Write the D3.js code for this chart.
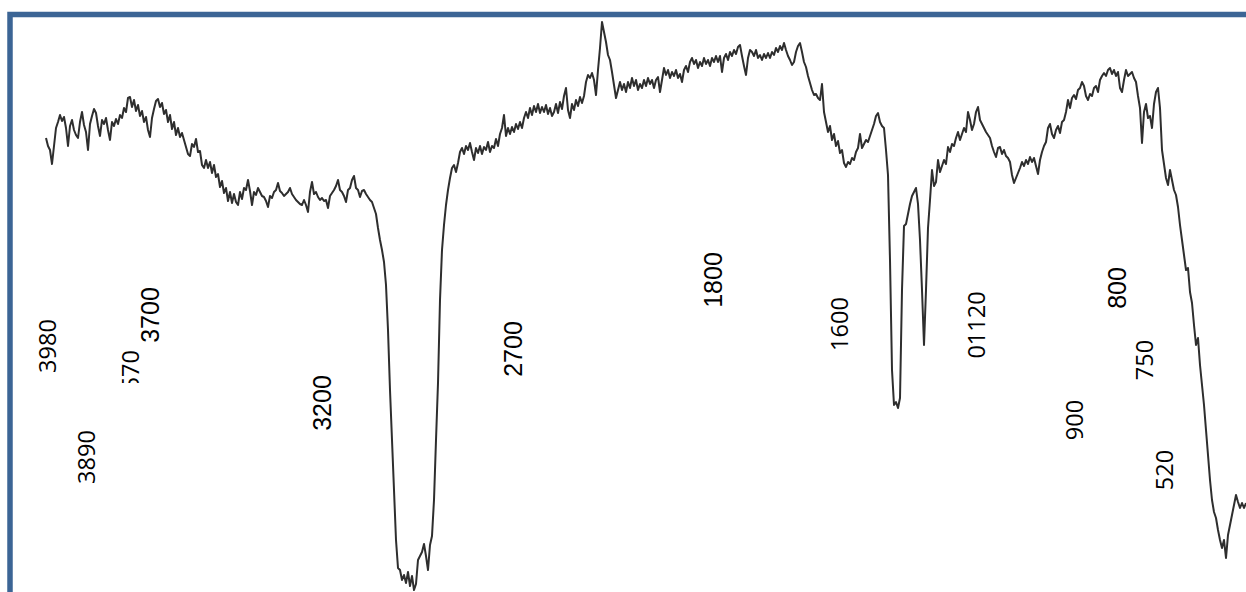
<!DOCTYPE html>
<html><head><meta charset="utf-8">
<script src="https://cdn.jsdelivr.net/npm/d3@7"></script>
<style>html,body{margin:0;padding:0;background:#fff;overflow:hidden}</style>
</head><body><svg id="c" width="1246" height="592"></svg>
<script>
// IR spectrum, sampled every 6 cm-1 from 4000 to 400 cm-1
const firstWavenumber = 4000;
const lastWavenumber = 400;
const wavenumberStep = -6;
const transmittance = [
92.4,90.8,90,87.2,90.8,94.4,95.6,97,95.8,96.6,
94.4,90.8,94.8,96,94,93,92.4,95.6,97.6,95,
93.6,90,95.2,96.8,98.2,97.4,94.8,92.8,96,95.2,
96.4,94,92,95.6,94.8,96.2,95.2,97,96.4,98.4,
97.6,100.4,100.6,98.6,100,97.8,99,96.8,97.8,95.6,
96.6,94,92.6,96.4,98.2,99.8,100.2,98.6,99.4,97.2,
98,95.6,97,94.2,95.6,93,94.4,92.6,93.4,92,
90.6,89.2,88.8,91.2,90.6,92.2,89.6,89.8,87,86.4,
88,86.4,87.6,85.4,87,84.6,85.2,82.6,83.8,81.4,
82.4,79.8,81.6,79.4,81.2,79.6,79,81.6,80.2,82.4,
82,84,81.8,79,81.6,81,82.4,81.6,80.8,80.6,
79.8,78.6,80.8,80.4,81.6,82,83.4,81.8,81.4,80.8,
81.2,81.6,82.4,81.2,80.6,80,79.6,79.2,79,80,
79,77.6,81.6,83.6,81.2,81.6,80.6,80,80.4,79.8,
80,78.4,80.8,81.4,82,82.8,84,82,81.6,80.8,
79.6,82,82.4,84,84.8,82.4,82,80.6,81.8,82,
81.2,80.6,80,79.6,78.4,77.2,74.4,72,70,67.6,
63,54,42,32,22,12,6.4,6,4,5,
3.4,5.6,2.8,4.8,2,3.2,8,8.8,9.6,11.2,
8.8,6,11,12.8,20,32,43.4,60,70,75,
79,82,84.4,86.4,87,85.6,87.4,89.6,90.4,89.2,
90.8,90,91.4,89.6,88,90.4,89.4,90.8,89.2,90.6,
90,91.6,89.6,90.8,90.4,92.2,90.8,93.2,94.4,97,
92.8,94.4,93.2,94.6,93.6,95.2,94.2,95.6,94.4,96.4,
97.6,96.4,98.4,97,98.8,97.6,99.2,97.4,98.6,97.6,
99,97.2,98.4,96.8,97.6,99.2,97.4,99.6,98.2,100.8,
102.4,98,96.4,99.2,98,100,98.8,100.6,99.4,100.8,
103.6,105,104.4,105.4,104,101,106,110.4,115.6,113.6,
111.6,109,108,105.6,103,100.4,102,103.6,102,103.2,
101.6,103.6,102.4,104.4,102.8,104,102,103.2,102.4,104,
102.8,104.4,103.2,104,102.4,104,104.6,101.6,104,106.4,
105,106,104.4,105.6,104.8,106,104.4,105.2,103.6,106,
106.8,105.6,107.6,108.4,107.2,108,106.4,107.6,106.8,108.4,
107.2,108,106.8,108.4,107.6,108.8,107.6,108.8,105.6,108.4,
109.2,108,109.6,108.8,110,109.2,110.6,111,108.8,106.8,
105,108.4,110,109.6,108.8,110,108.4,109,108,109.2,
108.4,109.4,108.4,109.6,109,110.4,109.6,110.8,110,111.4,
110,108.8,108,107,107.6,109.6,110.8,111.4,109.6,107.6,
106.6,104.8,103.4,102,101,101.2,100.4,100,103.2,97.6,
95.6,93.6,94.8,92,93.2,90.8,91.8,89.4,90,87.4,
86.6,87.6,87.2,88.4,88,89.6,90.4,93.2,90.4,91.2,
92,91.6,92.8,94,95.2,96.8,97.4,95.6,94.8,94.4,
90,85,68,46,39,39.6,38.4,40.4,62,74.8,
75.2,77.2,79.2,80.8,81.6,82.4,79.2,72,62,51,
62,74.4,80,86,82.8,83.6,88,85.6,86.8,88,
87.2,90.6,89.6,91.2,90.8,92.4,93.6,92,93.2,94.4,
93.6,97.6,96,94,95.2,97.6,98.6,96,95.2,94.4,
93.6,93,92.4,90.8,89.6,88.6,90.4,90.6,89.2,90,
88.8,88.4,87.6,85,83.4,84.4,85.4,86.4,87.6,86.8,
88,87.2,88.6,87.6,88.4,86.8,85.2,88,89.6,90.8,
91.6,94.4,95.2,93.2,92.4,94,94.8,93.4,95.6,96,
97.6,100,98.4,100.4,101,100.2,102,102.4,103.6,102.8,
100.8,100,101.2,100.8,102.4,102.8,101.6,104,104.8,105.4,
104.8,106,106.4,105.2,106,104.8,105.6,102.4,101.6,104,
106,104.8,105.2,105.6,104.4,103.6,100.8,98.4,91.4,97.6,
99.2,96.4,96.8,94.4,99.2,101.6,102.4,98.4,90,87.2,
84.4,83,86,84,82,81,78.6,75,72,69,
66,66.4,61.6,59.4,55,51,52.4,47,43,39,
34,29,24,20,17.6,16.4,14,12,10.4,12,
8.4,13,15,17,19,21,19.6,18.4,19.4,18.4,
19.4
];

// Peak annotations (rotated text), placed in data units
const peakLabels      = ["3980","3890","3570","3700","3200","2700","1800","1600","01120","900","800","750","520"];
const labelWavenumber = [3997, 3880, 3748, 3688, 3172, 2599, 1999, 1621, 1210, 916, 787, 706, 646];
const labelLevel      = [50.8, 28.6, 50,   57,   39.4, 50.2, 64,   55.2, 55,   36,  62.4, 48,  26];
const labelStyle      = ["c","c","c","a","a","a","a","c","c","c","a","c","c"];
const clippedLabel = "3570";
const clipLevel = 43.4;

const W = 1246, H = 592;
const svg = d3.select("#c");
const expected = (lastWavenumber - firstWavenumber) / wavenumberStep + 1;
if (transmittance.length !== expected) console.error("count", transmittance.length, expected);

const x = d3.scaleLinear().domain([firstWavenumber, lastWavenumber]).range([46, 1246]);
const y = d3.scaleLinear().domain([0, 120]).range([600, 0]);

// frame
svg.append("rect").attr("x", 10).attr("y", 14.5).attr("width", 1400).attr("height", 900)
  .attr("fill", "none").attr("stroke", "#3c6595").attr("stroke-width", 5.5);

const line = d3.line()
  .x((d, i) => x(firstWavenumber + i * wavenumberStep))
  .y(d => y(d));

svg.append("path").datum(transmittance).attr("d", line)
  .attr("fill", "none").attr("stroke", "#2e2e2e").attr("stroke-width", 2)
  .attr("stroke-linejoin", "round");

svg.append("clipPath").attr("id", "lc").append("rect")
  .attr("x", 0).attr("y", 0).attr("width", W).attr("height", y(clipLevel));

const labels = peakLabels.map((t, i) => ({t, wn: labelWavenumber[i], lv: labelLevel[i], s: labelStyle[i]}));
const plain = svg.append("g");
const clipped = svg.append("g").attr("clip-path", "url(#lc)");
[[plain, labels.filter(d => d.t !== clippedLabel)], [clipped, labels.filter(d => d.t === clippedLabel)]]
  .forEach(([g, data]) => {
    g.selectAll("text").data(data).join("text")
      .attr("transform", d => `translate(${x(d.wn)},${y(d.lv)}) rotate(-90)`)
      .attr("text-anchor", d => d.t === clippedLabel ? "end" : "middle")
      .attr("dominant-baseline", "central")
      .attr("font-family", d => d.s === "a" ? "'Liberation Sans', Arial, sans-serif" : "'Open Sans', sans-serif")
      .attr("font-size", d => d.s === "a" ? 25 : 23.5)
      .attr("fill", "#000")
      .text(d => d.t);
  });
</script></body></html>
